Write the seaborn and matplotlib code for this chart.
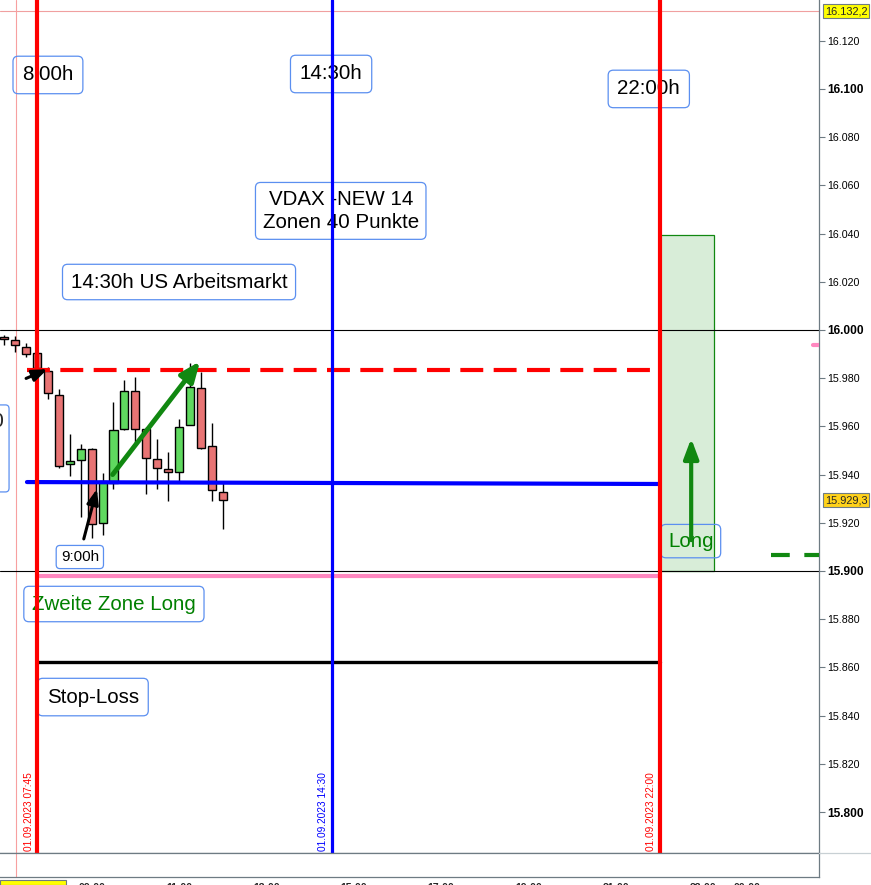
import matplotlib
matplotlib.use("Agg")
import matplotlib.pyplot as plt
import seaborn as sns
import numpy as np
import pandas as pd
from matplotlib.patches import Rectangle, FancyBboxPatch

sns.set_style("white")
plt.rcParams['font.family'] = ['Liberation Sans', 'DejaVu Sans']

# ---- data ----
times = [7.0 + 0.25 * i for i in range(21)]  # 15-min candles, hours
opens = [15997.2, 15995.9, 15992.8, 15990.3, 15983.0, 15972.9, 15944.4, 15946.1, 15950.5, 15919.8,
         15936.6, 15958.9, 15974.6, 15958.8, 15946.3, 15942.2, 15940.9, 15960.5, 15975.8, 15951.7, 15932.7]
closes = [15996.3, 15993.7, 15990.0, 15984.1, 15974.0, 15943.7, 15945.5, 15950.5, 15919.5, 15937.5,
          15958.4, 15974.6, 15958.8, 15946.9, 15942.6, 15940.9, 15959.6, 15976.2, 15950.9, 15933.6, 15929.3]
highs = [15997.9, 15997.5, 15994.5, 15991.7, 15984.8, 15975.5, 15956.8, 15952.6, 15951.0, 15940.5,
         15970.2, 15979.3, 15980.4, 15959.6, 15954.8, 15949.3, 15963.2, 15986.3, 15982.4, 15961.3, 15937.5]
lows = [15993.8, 15991.0, 15988.9, 15980.6, 15971.2, 15942.6, 15939.5, 15922.3, 15913.7, 15914.9,
        15933.9, 15958.5, 15953.2, 15932.0, 15933.9, 15929.2, 15937.1, 15960.5, 15950.5, 15929.2, 15917.3]

yticks = list(range(15800, 16121, 20))
xtick_times = [9, 11, 13, 15, 17, 19, 21, 23, 24]
xtick_labels = ["09:00", "11:00", "13:00", "15:00", "17:00", "19:00", "21:00", "23:00", "00:00"]

t_open, t_us, t_close = 7.75, 14.5, 22.0
red_dash_level = 15983.4
blue_level = (15936.9, 15936.1)
pink_level = 15897.9
stop_level = 15862.2
upper_line, lower_line = 16000.0, 15900.0
high_level = 16132.2
last_price = 15929.3
long_box = (22.0, 23.25, 15900.0, 16039.4)
green_short = 15906.6
pink_short = 15993.9

df = pd.DataFrame(dict(t=times, o=opens, c=closes, h=highs, l=lows))
df["up"] = df.c >= df.o

# ---- figure ----
W, H = 871, 885
fig = plt.figure(figsize=(W / 100, H / 100), dpi=100)
ax = fig.add_axes([0, (H - 853) / H, 819 / W, 853 / H])
xl = (6.903, 25.645)
ax.set_xlim(*xl)
ax.set_ylim(15783.0, 16136.9)

# wicks and bodies
ax.vlines(df.t, df.l, df.h, color="black", lw=1.0, zorder=3)
bw = 0.185
for up, col in [(True, "#5fd95f"), (False, "#e87474")]:
    d = df[df.up == up]
    ax.bar(d.t, (d.c - d.o).abs().clip(lower=0.8), bottom=np.minimum(d.o, d.c), width=bw,
           color=col, edgecolor="black", linewidth=1.0, zorder=4)

# horizontal lines
ax.axhline(upper_line, color="black", lw=0.8, zorder=2)
ax.axhline(lower_line, color="black", lw=0.8, zorder=2)
ax.axhline(high_level, color="#f0a0a0", lw=0.8, zorder=1)
ax.plot([7.52, t_close], [red_dash_level] * 2, color="#ff0000", lw=3.0, ls=(0, (5.5, 2.5)), zorder=5)
ax.plot([7.52, t_close], list(blue_level), color="#0000ff", lw=3.0, zorder=5)
ax.plot([t_open, t_close], [pink_level] * 2, color="#ff88c0", lw=3.0, zorder=5)
ax.plot([t_open, t_close], [stop_level] * 2, color="black", lw=2.4, zorder=5)
ax.plot([24.55, 25.645], [green_short] * 2, color="#118811", lw=3.0, ls=(0, (4.5, 3.5)), zorder=5)
ax.plot([25.5, 25.645], [pink_short] * 2, color="#ff88c0", lw=3.0, zorder=5)

# long box
ax.add_patch(Rectangle((long_box[0], long_box[2]), long_box[1] - long_box[0], long_box[3] - long_box[2],
                       facecolor="#d8edd8", edgecolor="#118811", lw=0.9, zorder=1))

# vertical lines
ax.axvline(7.27, color="#f7a0a0", lw=0.8, zorder=1)
ax.axvline(t_open, color="#ff0000", lw=3.0, zorder=6)
ax.axvline(t_us, color="#0000ff", lw=2.3, zorder=6)
ax.axvline(t_close, color="#ff0000", lw=3.0, zorder=6)

# vertical date labels
for t, lab, col in [(t_open, "01.09.2023 07:45", "#ff0000"), (t_us, "01.09.2023 14:30", "#0000ff"),
                    (t_close, "01.09.2023 22:00", "#ff0000")]:
    ax.text(t - 0.08, 15783.8, lab, rotation=90, ha="right", va="bottom", color=col, fontsize=7.3, zorder=7)

# text boxes
def label(x, y, s, color="black", fs=14.8, pad=0.45):
    b = dict(boxstyle=f"round,pad={pad},rounding_size=0.25", facecolor="none", edgecolor="#5b8ff0", lw=0.9)
    ax.text(x, y, s, ha="center", va="center", fontsize=fs, color=color, bbox=b, zorder=2,
            linespacing=1.3)

label(8.0, 16105.8, "8:00h")
label(14.48, 16106.2, "14:30h")
label(21.75, 16100.0, "22:00h")
label(14.7, 16049.4, "VDAX -NEW 14\nZonen 40 Punkte", pad=0.35)
label(11.0, 16019.9, "14:30h US Arbeitsmarkt", pad=0.4)
label(8.73, 15905.8, "9:00h", fs=11, pad=0.3)
label(9.51, 15886.3, "Zweite Zone Long", color="#008000", pad=0.4)
label(9.03, 15847.7, "Stop-Loss", pad=0.45)
label(22.71, 15912.4, "Long", color="#008000", pad=0.35)
ax.add_patch(FancyBboxPatch((6.0, 15932.8), 1.11, 36.1, boxstyle="round,pad=0,rounding_size=0.08",
                            mutation_aspect=20, facecolor="none", edgecolor="#5b8ff0", lw=0.9, zorder=2))
ax.text(7.0, 15962.0, "30", ha="right", va="center", fontsize=14.8, zorder=2)

# arrows
def arrow(x0, y0, x1, y1, col, lw, hw, hl):
    ax.annotate("", xy=(x1, y1), xytext=(x0, y0), zorder=8,
                arrowprops=dict(arrowstyle=f"-|>,head_width={hw},head_length={hl}", color=col, lw=lw,
                                shrinkA=0, shrinkB=0))
arrow(7.5, 15979.9, 7.99, 15983.7, "black", 2.2, 0.35, 0.9)
arrow(8.82, 15913.3, 9.12, 15934.0, "black", 2.2, 0.35, 0.9)
arrow(9.48, 15940.0, 11.48, 15987.0, "#118811", 3.5, 0.5, 1.2)
arrow(22.72, 15912.8, 22.72, 15955.0, "#118811", 3.0, 0.45, 1.2)

# right axis
ax.yaxis.tick_right()
ax.set_yticks(yticks)
ax.set_yticklabels([f"{v:,.0f}".replace(",", ".") for v in yticks])
for lab, v in zip(ax.get_yticklabels(), yticks):
    if v % 100 == 0:
        lab.set_fontweight("bold"); lab.set_fontsize(8.6)
    else:
        lab.set_fontsize(7.7)
ax.tick_params(axis="y", which="both", right=True, length=4, width=0.8, color="#6e7b83", pad=2,
               labelcolor="black")
ax.set_xticks([])
for s in ["top", "left"]:
    ax.spines[s].set_visible(False)
for s in ["right", "bottom"]:
    ax.spines[s].set_color("#6e7b83"); ax.spines[s].set_linewidth(0.9)

# price tags
ax.text(1.007, high_level, "16.132,2", transform=ax.get_yaxis_transform(), ha="left", va="center",
        fontsize=7.9, bbox=dict(boxstyle="square,pad=0.18", facecolor="#ffff00", edgecolor="#6e7b83", lw=0.8))
ax.text(1.007, last_price, "15.929,3", transform=ax.get_yaxis_transform(), ha="left", va="center",
        fontsize=7.9, bbox=dict(boxstyle="square,pad=0.18", facecolor="#ffd21a", edgecolor="#6e7b83", lw=0.8))
fig.add_artist(plt.Line2D([819 / W, 1], [(H - 853) / H] * 2, color="#c8d0d4", lw=0.9))

# bottom strip
ax2 = fig.add_axes([0, (H - 877) / H, 819 / W, 24 / H])
ax2.set_xlim(*xl)
ax2.set_yticks([])
ax2.set_xticks(xtick_times)
ax2.set_xticklabels(xtick_labels, fontsize=7.6, fontweight="bold")
ax2.tick_params(axis="x", length=3, color="#6e7b83", pad=1)
ax2.axvline(7.27, color="#f7a0a0", lw=0.8)
for s in ax2.spines.values():
    s.set_color("#6e7b83"); s.set_linewidth(0.9)
ax2.spines["left"].set_visible(False)
fig.add_artist(Rectangle((0, 0), 66 / W, 5 / H, facecolor="#ffff00", edgecolor="#6e7b83", lw=0.8,
                         transform=fig.transFigure))

fig.savefig("out.png", dpi=100)
